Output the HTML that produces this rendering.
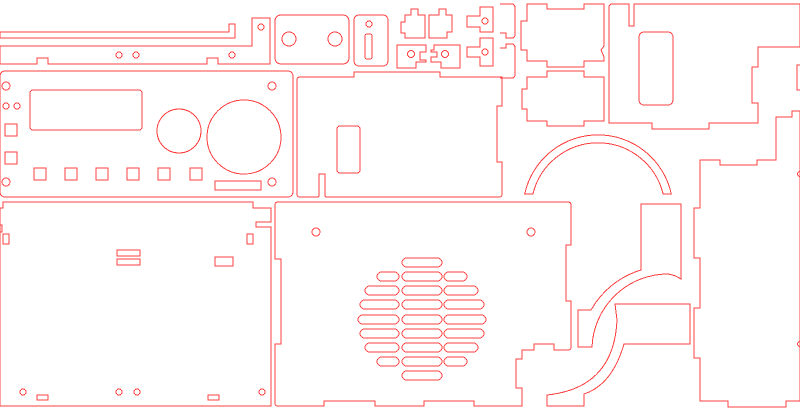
<!DOCTYPE html>
<html><head><meta charset="utf-8"><style>html,body{margin:0;padding:0;background:#fff}svg{display:block}</style></head>
<body>
<svg width="800" height="410" viewBox="0 0 800 410" xmlns="http://www.w3.org/2000/svg" fill="none" stroke="#ff4040" stroke-width="1" shape-rendering="crispEdges">
<!-- top strips -->
<polygon points="0,32 229,32 229,24 235,24 235,38 0,38"/>
<polygon points="0,46 252,46 252,18 270,18 270,64 218,64 218,58 207,58 207,64 48,64 48,58 37,58 37,64 0,64"/>
<circle cx="119" cy="55" r="3"/><circle cx="136" cy="55" r="3"/><circle cx="232" cy="55" r="3"/><circle cx="261" cy="27" r="3"/>
<rect x="275" y="15" width="74" height="49" rx="6"/>
<circle cx="289" cy="39" r="7"/><circle cx="335" cy="39" r="7"/>
<rect x="354" y="15" width="34" height="51" rx="5"/>
<circle cx="369" cy="24" r="3"/><rect x="365" y="34" width="7" height="25" rx="2"/>
<!-- small pieces -->
<polygon points="411,9 418,9 418,15 425,15 425,38 405,38 405,33 401,33 401,22 405,22 405,15 411,15"/>
<polygon points="439,9 446,9 446,15 452,15 452,32 447,32 447,38 429,38 429,22 429,15 439,15"/>
<polygon points="467,16 480,16 480,7 493,7 493,32 480,32 480,27 467,27"/>
<circle cx="485" cy="21" r="3"/>
<polygon points="467,47 480,47 480,38 493,38 493,66 480,66 480,57 467,57"/>
<circle cx="485" cy="52" r="3"/>
<polygon points="397,45 426,45 426,52 420,52 420,60 426,60 426,62 416,62 416,68 397,68"/>
<circle cx="411" cy="54" r="3.5"/>
<polygon points="434,45 460,45 460,68 441,68 441,62 431,62 431,57 437,57 437,52 431,52 431,50 434,50"/>
<circle cx="445" cy="54" r="3.5"/>
<path d="M500,4 L512,4 Q515,4 515,8 L515,34 Q515,38 512,38 L506,38 L506,33 L500,33"/>
<path d="M500,48 L506,48 L506,44 L512,44 Q515,44 515,48 L515,74 Q515,78 512,78 L500,78"/>
<!-- right top pieces -->
<polygon points="527,4 547,4 547,9 584,9 584,4 604,4 604,46 601,50 604,57 604,61 584,61 584,67 547,67 547,61 527,61 527,50 521,50 521,21 527,21"/>
<polygon points="547,71 584,71 584,77 604,77 604,121 584,121 584,126 547,126 547,121 527,121 527,109 522,109 522,89 527,89 527,77 547,77"/>
<polygon points="611,4 629,4 629,26 634,26 634,4 800,4 800,47 758,47 758,67 752,67 752,103 758,103 758,123 709,123 709,129 652,129 652,123 609,123 609,6"/>
<rect x="639" y="32" width="34" height="73" rx="5"/>
<polygon points="800,111 792,111 792,117 776,117 776,160 757,160 757,165 720,165 720,160 700,160 700,208 694,208 694,258 700,258 700,308 694,308 694,358 700,358 700,401 728,401 728,407 786,407 786,401 800,401"/>
<rect x="797" y="65" width="6" height="25"/>
<circle cx="800" cy="174" r="2.5"/><circle cx="800" cy="344" r="2.5"/>
<!-- arch -->
<path d="M524.7,194 A75 75 0 0 1 671.3,194 L663.1,194 A67 67 0 0 0 532.9,194 Z"/>
<!-- curved pieces -->
<path d="M641,204 L681,204 L681,279 Q675,275 668,274 A76 76 0 0 0 592,347 L578,347 L578,310 L591,310 A86 86 0 0 1 641,270 Z"/>
<path d="M615,304 L690,304 L690,344 L624,344 Q612,385 584,394 L584,406 L547,406 L547,395 Q614,388 617,320 Z"/>
<!-- front panel -->
<rect x="0" y="71" width="293" height="126" rx="5"/>
<rect x="30" y="90" width="112" height="40" rx="3"/>
<circle cx="179" cy="131" r="22"/><circle cx="244" cy="137" r="37"/>
<circle cx="6" cy="86" r="4"/><circle cx="272" cy="86" r="4"/><circle cx="6" cy="106" r="3"/><circle cx="17" cy="106" r="3"/>
<circle cx="6" cy="182" r="4"/><circle cx="272" cy="182" r="4"/>
<rect x="5" y="124" width="12" height="12"/><rect x="5" y="152" width="12" height="12"/>
<rect x="34" y="168" width="12" height="12"/><rect x="65" y="168" width="12" height="12"/><rect x="96" y="168" width="12" height="12"/>
<rect x="127" y="168" width="12" height="12"/><rect x="158" y="168" width="12" height="12"/><rect x="190" y="168" width="12" height="12"/>
<rect x="215" y="181" width="46" height="9"/>
<!-- panel H -->
<path d="M300,77 L354,77 L354,72 L440,72 L440,77 L502,77 L502,106 L497,106 L497,162 L502,162 L502,194 Q502,197 499,197 L327,197 Q325,197 325,195 L325,174 L319,174 L319,195 Q319,197 317,197 L300,197 Q297,197 297,194 L297,80 Q297,77 300,77 Z"/>
<rect x="337" y="126" width="23" height="47" rx="3"/>
<!-- left bottom panel -->
<polygon points="3,202 253,202 253,208 271,208 271,222 256,222 256,227 271,227 271,406 0,406 0,208 3,208"/>
<rect x="0" y="225" width="2" height="7"/>
<rect x="3" y="234" width="6" height="10"/><rect x="247" y="234" width="6" height="10"/>
<rect x="117" y="250" width="23" height="6"/><rect x="117" y="259" width="23" height="6"/>
<rect x="215" y="257" width="18" height="9"/>
<circle cx="23" cy="392" r="3"/><circle cx="119" cy="392" r="3"/><circle cx="137" cy="392" r="3"/><circle cx="262" cy="392" r="3"/>
<rect x="37" y="395" width="11" height="5"/><rect x="208" y="395" width="11" height="5"/>
<!-- middle bottom panel -->
<path d="M278,202 L568,202 Q571,202 571,205 L571,245 L566,245 L566,301 L571,301 L571,347 Q571,350 568,350 L554,350 L554,344 L534,344 L534,350 L522,350 L522,359 L516,359 L516,388 L522,388 L522,406 L474,406 L474,401 L424,401 L424,406 L375,406 L375,401 L324,401 L324,406 L278,406 Q275,406 275,403 L275,344 L281,344 L281,259 L275,259 L275,205 Q275,202 278,202 Z"/>
<circle cx="316" cy="232" r="4"/><circle cx="531" cy="232" r="4"/>
<g>
<rect x="402" y="258" width="40" height="9" rx="4.5"/>
<rect x="377" y="272" width="22" height="9" rx="4.5"/><rect x="402" y="272" width="40" height="9" rx="4.5"/><rect x="444" y="272" width="23" height="9" rx="4.5"/>
<rect x="365" y="286" width="34" height="9" rx="4.5"/><rect x="402" y="286" width="40" height="9" rx="4.5"/><rect x="444" y="286" width="34" height="9" rx="4.5"/>
<rect x="360" y="300" width="39" height="9" rx="4.5"/><rect x="402" y="300" width="40" height="9" rx="4.5"/><rect x="444" y="300" width="40" height="9" rx="4.5"/>
<rect x="358" y="315" width="41" height="9" rx="4.5"/><rect x="402" y="315" width="40" height="9" rx="4.5"/><rect x="444" y="315" width="42" height="9" rx="4.5"/>
<rect x="360" y="329" width="39" height="9" rx="4.5"/><rect x="402" y="329" width="40" height="9" rx="4.5"/><rect x="444" y="329" width="40" height="9" rx="4.5"/>
<rect x="365" y="343" width="34" height="9" rx="4.5"/><rect x="402" y="343" width="40" height="9" rx="4.5"/><rect x="444" y="343" width="34" height="9" rx="4.5"/>
<rect x="377" y="357" width="22" height="9" rx="4.5"/><rect x="402" y="357" width="40" height="9" rx="4.5"/><rect x="444" y="357" width="23" height="9" rx="4.5"/>
<rect x="402" y="371" width="40" height="9" rx="4.5"/>
</g>
</svg>
</body></html>
